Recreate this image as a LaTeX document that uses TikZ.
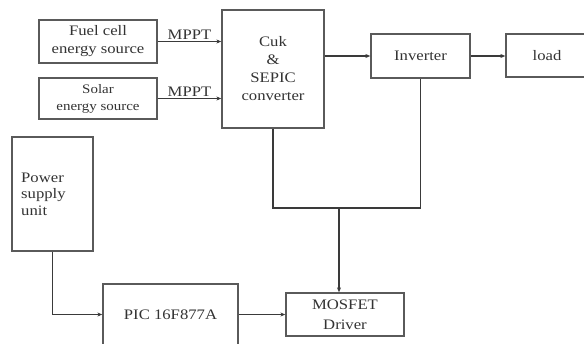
\documentclass[tikz,border=0pt]{standalone}
\usepackage{fontspec}
\setmainfont{Liberation Serif}[FakeStretch=1.15]
\usetikzlibrary{arrows.meta}
\definecolor{boxc}{HTML}{5A5A5A}
\definecolor{linec}{HTML}{3A3A3A}
\definecolor{txtc}{HTML}{333333}
\begin{document}
\begin{tikzpicture}[x=1pt,y=-1pt,
  blk/.style={draw=boxc, line width=1.3pt, inner sep=0pt, align=center, text=txtc,
    font=\fontsize{14.5}{18}\selectfont},
  conn/.style={draw=linec, line width=1.4pt},
  arr/.style={conn, -{Stealth[length=5pt,width=4pt]}},
  lbl/.style={text=txtc, font=\fontsize{14.5}{18}\selectfont, inner sep=1pt}]
\useasboundingbox (0,0) rectangle (584,343);
\fill[white] (0,0) rectangle (584,343);
\node[blk, minimum width=118pt, minimum height=43pt] (fuel) at (98,41.5) {Fuel cell\\energy source};
\node[blk, minimum width=118pt, minimum height=41pt, font=\fontsize{13}{17}\selectfont] (solar) at (98,98.5) {Solar\\energy source};
\node[blk, minimum width=102pt, minimum height=118pt] (cuk) at (273,69) {Cuk\\\&\\SEPIC\\converter};
\node[blk, minimum width=99pt, minimum height=44pt] (inv) at (420.5,56) {Inverter};
\node[blk, minimum width=82pt, minimum height=43pt] (load) at (547,55.5) {load};
\node[blk, minimum width=81pt, minimum height=114pt] (psu) at (52.5,194) {};
\node[lbl, anchor=west, align=left, font=\fontsize{14.5}{16.5}\selectfont] (psut) at (20,194) {Power\\supply\\unit};
\node[blk, minimum width=135pt, minimum height=61pt] (pic) at (170.5,314.5) {PIC 16F877A};
\node[blk, minimum width=118pt, minimum height=43pt, font=\fontsize{14.5}{20}\selectfont] (mos) at (345,314.5) {MOSFET\\Driver};
\coordinate (j) at (339,208);
\draw[arr] (fuel.east) -- (fuel.east -| cuk.west) node[lbl, midway, above] (m1) {MPPT};
\draw[arr] (solar.east) -- (solar.east -| cuk.west) node[lbl, midway, above] (m2) {MPPT};
\draw[arr] (cuk.east |- inv) -- (inv.west);
\draw[arr] (inv.east) -- (load.west |- inv.east);
\draw[conn] (cuk.south) |- (j) -| (inv.south);
\draw[arr, line width=2pt] (j) -- (j |- mos.north);
\draw[arr] (psu.south) |- (pic.west);
\draw[arr] (pic.east) -- (mos.west);
\end{tikzpicture}
\end{document}
